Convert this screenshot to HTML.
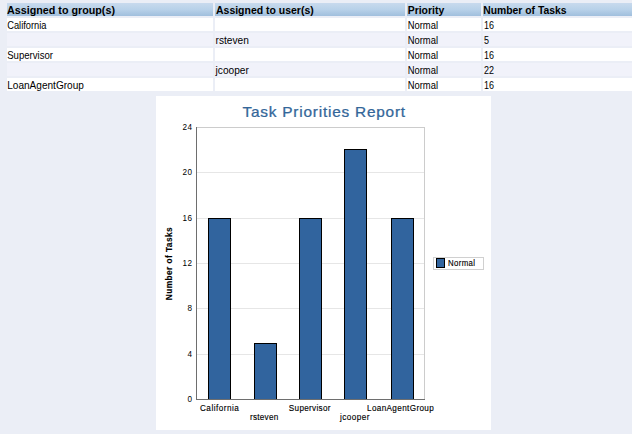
<!DOCTYPE html>
<html><head><meta charset="utf-8">
<style>
html,body{margin:0;padding:0;}
body{width:632px;height:434px;overflow:hidden;background:#ebeef6;font-family:"Liberation Sans",sans-serif;}
svg{display:block;position:absolute;left:0;top:0;}
text{font-family:"Liberation Sans",sans-serif;}
</style></head><body>
<svg width="632" height="434" viewBox="0 0 632 434">
<defs><linearGradient id="hg" x1="0" y1="0" x2="0" y2="1"><stop offset="0" stop-color="#c8daed"/><stop offset="0.5" stop-color="#b8d1e9"/><stop offset="1" stop-color="#a0bfdd"/></linearGradient></defs>
<rect x="0" y="0" width="632" height="434" fill="#ebeef6"/>
<rect x="7" y="3" width="206" height="13" fill="url(#hg)"/>
<rect x="215" y="3" width="190" height="13" fill="url(#hg)"/>
<rect x="407" y="3" width="74" height="13" fill="url(#hg)"/>
<rect x="483" y="3" width="149" height="13" fill="url(#hg)"/>
<rect x="7" y="18" width="206" height="13" fill="#ffffff"/>
<rect x="215" y="18" width="190" height="13" fill="#ffffff"/>
<rect x="407" y="18" width="74" height="13" fill="#ffffff"/>
<rect x="483" y="18" width="149" height="13" fill="#ffffff"/>
<rect x="7" y="33" width="206" height="13" fill="#f1f2fa"/>
<rect x="215" y="33" width="190" height="13" fill="#f1f2fa"/>
<rect x="407" y="33" width="74" height="13" fill="#f1f2fa"/>
<rect x="483" y="33" width="149" height="13" fill="#f1f2fa"/>
<rect x="7" y="48" width="206" height="13" fill="#ffffff"/>
<rect x="215" y="48" width="190" height="13" fill="#ffffff"/>
<rect x="407" y="48" width="74" height="13" fill="#ffffff"/>
<rect x="483" y="48" width="149" height="13" fill="#ffffff"/>
<rect x="7" y="63" width="206" height="13" fill="#f1f2fa"/>
<rect x="215" y="63" width="190" height="13" fill="#f1f2fa"/>
<rect x="407" y="63" width="74" height="13" fill="#f1f2fa"/>
<rect x="483" y="63" width="149" height="13" fill="#f1f2fa"/>
<rect x="7" y="78" width="206" height="13" fill="#ffffff"/>
<rect x="215" y="78" width="190" height="13" fill="#ffffff"/>
<rect x="407" y="78" width="74" height="13" fill="#ffffff"/>
<rect x="483" y="78" width="149" height="13" fill="#ffffff"/>
<text x="7" y="13.7" font-size="11" font-weight="bold" fill="#000" textLength="108" lengthAdjust="spacingAndGlyphs">Assigned to group(s)</text>
<text x="216" y="13.7" font-size="11" font-weight="bold" fill="#000" textLength="97.7" lengthAdjust="spacingAndGlyphs">Assigned to user(s)</text>
<text x="407.7" y="13.7" font-size="11" font-weight="bold" fill="#000" textLength="36.5" lengthAdjust="spacingAndGlyphs">Priority</text>
<text x="483.2" y="13.7" font-size="11" font-weight="bold" fill="#000" textLength="83.4" lengthAdjust="spacingAndGlyphs">Number of Tasks</text>
<text x="7.2" y="28.7" font-size="11" fill="#000" textLength="39.3" lengthAdjust="spacingAndGlyphs">California</text>
<text x="407.7" y="28.7" font-size="11" fill="#000" textLength="30.3" lengthAdjust="spacingAndGlyphs">Normal</text>
<text x="484" y="28.7" font-size="11" fill="#000" textLength="10" lengthAdjust="spacingAndGlyphs">16</text>
<text x="215.6" y="43.7" font-size="11" fill="#000" textLength="33.3" lengthAdjust="spacingAndGlyphs">rsteven</text>
<text x="407.7" y="43.7" font-size="11" fill="#000" textLength="30.3" lengthAdjust="spacingAndGlyphs">Normal</text>
<text x="484" y="43.7" font-size="11" fill="#000" textLength="5" lengthAdjust="spacingAndGlyphs">5</text>
<text x="7.2" y="58.7" font-size="11" fill="#000" textLength="45.8" lengthAdjust="spacingAndGlyphs">Supervisor</text>
<text x="407.7" y="58.7" font-size="11" fill="#000" textLength="30.3" lengthAdjust="spacingAndGlyphs">Normal</text>
<text x="484" y="58.7" font-size="11" fill="#000" textLength="10" lengthAdjust="spacingAndGlyphs">16</text>
<text x="215.6" y="73.7" font-size="11" fill="#000" textLength="33.3" lengthAdjust="spacingAndGlyphs">jcooper</text>
<text x="407.7" y="73.7" font-size="11" fill="#000" textLength="30.3" lengthAdjust="spacingAndGlyphs">Normal</text>
<text x="484" y="73.7" font-size="11" fill="#000" textLength="10" lengthAdjust="spacingAndGlyphs">22</text>
<text x="7.2" y="88.7" font-size="11" fill="#000" textLength="76.7" lengthAdjust="spacingAndGlyphs">LoanAgentGroup</text>
<text x="407.7" y="88.7" font-size="11" fill="#000" textLength="30.3" lengthAdjust="spacingAndGlyphs">Normal</text>
<text x="484" y="88.7" font-size="11" fill="#000" textLength="10" lengthAdjust="spacingAndGlyphs">16</text>
<rect x="156" y="96" width="335" height="334" fill="#fff"/>
<g stroke="#e6e6e6" stroke-width="1" shape-rendering="crispEdges"><line x1="197" x2="425" y1="172.5" y2="172.5"/><line x1="197" x2="425" y1="218.5" y2="218.5"/><line x1="197" x2="425" y1="263.5" y2="263.5"/><line x1="197" x2="425" y1="308.5" y2="308.5"/><line x1="197" x2="425" y1="354.5" y2="354.5"/></g>
<g stroke="#cccccc" stroke-width="1" shape-rendering="crispEdges"><line x1="196" x2="425" y1="127.5" y2="127.5"/><line x1="424.5" x2="424.5" y1="127" y2="400"/></g>
<g stroke="#000" stroke-width="1" fill="#31649e" shape-rendering="crispEdges"><rect x="208.5" y="218.5" width="22" height="181"/><rect x="254.5" y="343.5" width="22" height="56"/><rect x="299.5" y="218.5" width="22" height="181"/><rect x="344.5" y="149.5" width="22" height="250"/><rect x="391.5" y="218.5" width="22" height="181"/></g>
<g stroke="#6e6e6e" stroke-width="1" shape-rendering="crispEdges"><line x1="196.5" x2="196.5" y1="127" y2="400"/><line x1="196" x2="425" y1="399.5" y2="399.5"/></g>
<g transform="translate(242.5,116.5) scale(1.1,1)"><text x="0" y="0" font-size="14" fill="#336699" stroke="#336699" stroke-width="0.25" textLength="147.82" lengthAdjust="spacing">Task Priorities Report</text></g>
<g transform="translate(182.6,130.2) scale(0.85,1)"><text x="0" y="0" font-size="9.6" fill="#000" stroke="#000" stroke-width="0" textLength="11.06" lengthAdjust="spacing">24</text></g>
<g transform="translate(182.6,175.2) scale(0.85,1)"><text x="0" y="0" font-size="9.6" fill="#000" stroke="#000" stroke-width="0" textLength="11.06" lengthAdjust="spacing">20</text></g>
<g transform="translate(182.6,221.2) scale(0.85,1)"><text x="0" y="0" font-size="9.6" fill="#000" stroke="#000" stroke-width="0" textLength="11.06" lengthAdjust="spacing">16</text></g>
<g transform="translate(182.6,266.2) scale(0.85,1)"><text x="0" y="0" font-size="9.6" fill="#000" stroke="#000" stroke-width="0" textLength="11.06" lengthAdjust="spacing">12</text></g>
<g transform="translate(187.6,311.2) scale(0.85,1)"><text x="0" y="0" font-size="9.6" fill="#000" stroke="#000" stroke-width="0" textLength="5.18" lengthAdjust="spacing">8</text></g>
<g transform="translate(187.6,357.2) scale(0.85,1)"><text x="0" y="0" font-size="9.6" fill="#000" stroke="#000" stroke-width="0" textLength="5.18" lengthAdjust="spacing">4</text></g>
<g transform="translate(187.6,402.2) scale(0.85,1)"><text x="0" y="0" font-size="9.6" fill="#000" stroke="#000" stroke-width="0" textLength="5.18" lengthAdjust="spacing">0</text></g>
<g transform="translate(200,410.5) scale(0.86,1)"><text x="0" y="0" font-size="9.5" fill="#000" stroke="#000" stroke-width="0.15" textLength="45.12" lengthAdjust="spacing">California</text></g>
<g transform="translate(250,420) scale(0.86,1)"><text x="0" y="0" font-size="9.5" fill="#000" stroke="#000" stroke-width="0.15" textLength="32.91" lengthAdjust="spacing">rsteven</text></g>
<g transform="translate(288.8,410.5) scale(0.86,1)"><text x="0" y="0" font-size="9.5" fill="#000" stroke="#000" stroke-width="0.15" textLength="48.49" lengthAdjust="spacing">Supervisor</text></g>
<g transform="translate(340,419.7) scale(0.86,1)"><text x="0" y="0" font-size="9.5" fill="#000" stroke="#000" stroke-width="0.15" textLength="34.30" lengthAdjust="spacing">jcooper</text></g>
<g transform="translate(367,410.5) scale(0.86,1)"><text x="0" y="0" font-size="9.5" fill="#000" stroke="#000" stroke-width="0.15" textLength="77.67" lengthAdjust="spacing">LoanAgentGroup</text></g>
<g transform="translate(172,300.3) rotate(-90)"><g transform="translate(0,0) scale(0.88,1)"><text x="0" y="0" font-size="9.5" font-weight="bold" fill="#000" stroke="#000" stroke-width="0.15" textLength="82.95" lengthAdjust="spacing">Number of Tasks</text></g></g>
<rect x="433.5" y="257.5" width="50" height="12" fill="#fff" stroke="#d0d0d0" shape-rendering="crispEdges"/>
<rect x="436.5" y="258.5" width="8" height="9" fill="#31649e" stroke="#000" shape-rendering="crispEdges"/>
<g transform="translate(447.9,266) scale(0.8,1)"><text x="0" y="0" font-size="9.8" fill="#000" stroke="#000" stroke-width="0.15" textLength="34.00" lengthAdjust="spacing">Normal</text></g>
</svg></body></html>
